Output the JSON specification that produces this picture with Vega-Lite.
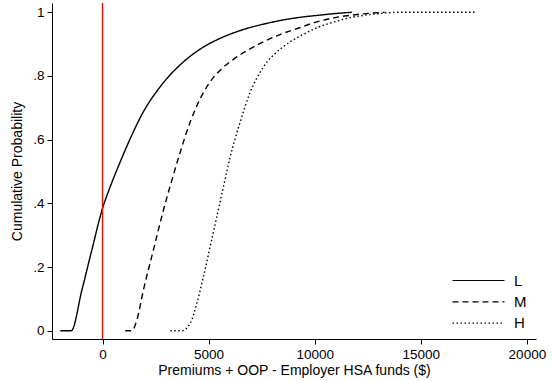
{
  "$schema": "https://vega.github.io/schema/vega-lite/v6.json",
  "autosize": {"type": "none"},
  "padding": {"left": 52, "top": 3, "right": 16, "bottom": 42},
  "width": 484,
  "height": 336,
  "background": "white",
  "config": {
    "view": {"stroke": null},
    "font": "Liberation Sans",
    "axis": {
      "grid": false,
      "domainColor": "black",
      "tickColor": "black",
      "labelColor": "black",
      "titleColor": "black",
      "labelFont": "Liberation Sans",
      "titleFont": "Liberation Sans",
      "titleFontWeight": "normal",
      "labelFontSize": 13.5,
      "titleFontSize": 14,
      "tickSize": 5,
      "domainWidth": 1,
      "tickWidth": 1
    }
  },
  "datasets": {
    "cdf": [
      {"grp": "L", "x": -1990, "p": 0},
      {"grp": "L", "x": -1475, "p": 0},
      {"grp": "L", "x": -970, "p": 0.128},
      {"grp": "L", "x": -500, "p": 0.254},
      {"grp": "L", "x": 0, "p": 0.384},
      {"grp": "L", "x": 363, "p": 0.452},
      {"grp": "L", "x": 834, "p": 0.53},
      {"grp": "L", "x": 1305, "p": 0.603},
      {"grp": "L", "x": 1931, "p": 0.688},
      {"grp": "L", "x": 2718, "p": 0.766},
      {"grp": "L", "x": 3660, "p": 0.835},
      {"grp": "L", "x": 4600, "p": 0.884},
      {"grp": "L", "x": 5540, "p": 0.918},
      {"grp": "L", "x": 6170, "p": 0.935},
      {"grp": "L", "x": 6800, "p": 0.949},
      {"grp": "L", "x": 7743, "p": 0.965},
      {"grp": "L", "x": 8370, "p": 0.974},
      {"grp": "L", "x": 9312, "p": 0.984},
      {"grp": "L", "x": 10250, "p": 0.991},
      {"grp": "L", "x": 11000, "p": 0.996},
      {"grp": "L", "x": 11750, "p": 1.0},
      {"grp": "M", "x": 1070, "p": 0},
      {"grp": "M", "x": 1385, "p": 0},
      {"grp": "M", "x": 1620, "p": 0.034},
      {"grp": "M", "x": 1930, "p": 0.128},
      {"grp": "M", "x": 2400, "p": 0.254},
      {"grp": "M", "x": 2873, "p": 0.379},
      {"grp": "M", "x": 3270, "p": 0.473},
      {"grp": "M", "x": 3660, "p": 0.56},
      {"grp": "M", "x": 4130, "p": 0.655},
      {"grp": "M", "x": 4600, "p": 0.728},
      {"grp": "M", "x": 5073, "p": 0.782},
      {"grp": "M", "x": 5544, "p": 0.818},
      {"grp": "M", "x": 6170, "p": 0.852},
      {"grp": "M", "x": 6957, "p": 0.885},
      {"grp": "M", "x": 7743, "p": 0.912},
      {"grp": "M", "x": 8370, "p": 0.93},
      {"grp": "M", "x": 9312, "p": 0.952},
      {"grp": "M", "x": 10000, "p": 0.968},
      {"grp": "M", "x": 10880, "p": 0.982},
      {"grp": "M", "x": 11510, "p": 0.989},
      {"grp": "M", "x": 12300, "p": 0.995},
      {"grp": "M", "x": 13300, "p": 1.0},
      {"grp": "H", "x": 3190, "p": 0},
      {"grp": "H", "x": 3740, "p": 0},
      {"grp": "H", "x": 4130, "p": 0.023},
      {"grp": "H", "x": 4446, "p": 0.086},
      {"grp": "H", "x": 4757, "p": 0.17},
      {"grp": "H", "x": 5073, "p": 0.264},
      {"grp": "H", "x": 5388, "p": 0.358},
      {"grp": "H", "x": 5700, "p": 0.452},
      {"grp": "H", "x": 6015, "p": 0.545},
      {"grp": "H", "x": 6486, "p": 0.655},
      {"grp": "H", "x": 6957, "p": 0.748},
      {"grp": "H", "x": 7583, "p": 0.828},
      {"grp": "H", "x": 8370, "p": 0.884},
      {"grp": "H", "x": 9312, "p": 0.925},
      {"grp": "H", "x": 10100, "p": 0.951},
      {"grp": "H", "x": 11000, "p": 0.971},
      {"grp": "H", "x": 11670, "p": 0.983},
      {"grp": "H", "x": 12280, "p": 0.99},
      {"grp": "H", "x": 13220, "p": 0.997},
      {"grp": "H", "x": 14000, "p": 1.0},
      {"grp": "H", "x": 17630, "p": 1.0}
    ],
    "ref": [{"x": 0}]
  },
  "layer": [
    {
      "data": {"name": "cdf"},
      "mark": {"type": "line", "interpolate": "monotone", "color": "black", "strokeWidth": 1.4},
      "encoding": {
        "x": {
          "field": "x", "type": "quantitative",
          "scale": {"domain": [-2380, 20430], "nice": false, "zero": false},
          "axis": {"values": [0, 5000, 10000, 15000, 20000], "format": "d", "title": "Premiums + OOP - Employer HSA funds ($)", "titlePadding": 3, "labelPadding": 3}
        },
        "y": {
          "field": "p", "type": "quantitative",
          "scale": {"domain": [-0.026, 1.029], "nice": false, "zero": false},
          "axis": {
            "values": [0, 0.2, 0.4, 0.6, 0.8, 1],
            "labelExpr": "datum.value == 0 ? '0' : datum.value == 1 ? '1' : replace(format(datum.value, '.1f'), '0.', '.')",
            "title": "Cumulative Probability",
            "titlePadding": 8,
            "labelPadding": 3
          }
        },
        "detail": {"field": "grp"},
        "strokeDash": {
          "field": "grp", "type": "nominal",
          "scale": {"domain": ["L", "M", "H"], "range": [[1, 0], [6, 4], [1.5, 2.5]]},
          "legend": {
            "title": null,
            "orient": "none",
            "legendX": 415,
            "legendY": 266,
            "symbolType": "M-2.5,0H2.5",
            "symbolSize": 433,
            "symbolStrokeColor": "black",
            "symbolStrokeWidth": 1.2,
            "labelFontSize": 15,
            "labelColor": "black",
            "labelFont": "Liberation Sans",
            "labelOffset": 24,
            "rowPadding": 1.3
          }
        }
      }
    },
    {
      "data": {"name": "ref"},
      "mark": {"type": "rule", "color": "#ff0000", "strokeWidth": 1.3},
      "encoding": {"x": {"field": "x", "type": "quantitative"}}
    }
  ]
}
